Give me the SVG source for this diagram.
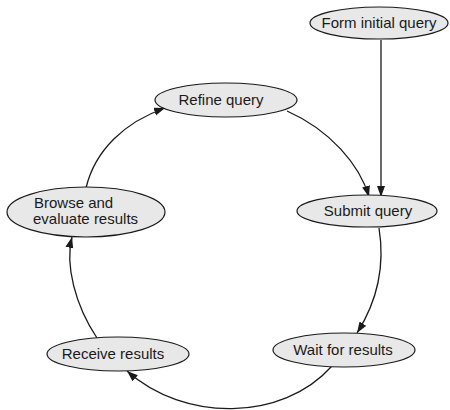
<svg xmlns="http://www.w3.org/2000/svg" width="450" height="410" viewBox="0 0 450 410">
<style>
.node ellipse{fill:#e8e8e8;stroke:#1a1a1a;stroke-width:1.2}
.node text{font-family:"Liberation Sans",Arial,sans-serif;font-size:15px;fill:#1a1a1a}
.c{text-anchor:middle}
.edges path{fill:none;stroke:#1a1a1a;stroke-width:1.3;marker-end:url(#arr)}
</style>
<defs>
<marker id="arr" markerUnits="userSpaceOnUse" markerWidth="12" markerHeight="10" refX="11" refY="4" orient="auto">
<path d="M0,0 L11,4 L0,8 Z" fill="#1a1a1a"/>
</marker>
</defs>
<rect width="450" height="410" fill="#fff"/>
<g class="edges">
<path d="M381,40 L381,197"/>
<path d="M287,111 C330,130 360,165 369,197"/>
<path d="M379,228 C385,265 378,300 357,333"/>
<path d="M332,366 C282,422 184,422 127,371"/>
<path d="M97,338 C75,305 65,265 72,237"/>
<path d="M86,188 C95,150 125,122 165,108"/>
</g>
<g id="form" class="node"><ellipse cx="379" cy="23" rx="69" ry="16"/><text class="c" x="379" y="28">Form initial query</text></g>
<g id="refine" class="node"><ellipse cx="226" cy="100" rx="71" ry="17"/><text class="c" x="221" y="105">Refine query</text></g>
<g id="browse" class="node"><ellipse cx="86" cy="212" rx="79" ry="25"/><text x="34" y="208">Browse and</text><text x="33" y="224">evaluate results</text></g>
<g id="submit" class="node"><ellipse cx="367" cy="211" rx="70" ry="16"/><text class="c" x="368" y="216">Submit query</text></g>
<g id="wait" class="node"><ellipse cx="344" cy="350" rx="71" ry="17"/><text class="c" x="343" y="355">Wait for results</text></g>
<g id="receive" class="node"><ellipse cx="118" cy="354" rx="71" ry="17"/><text class="c" x="113" y="359">Receive results</text></g>
</svg>
